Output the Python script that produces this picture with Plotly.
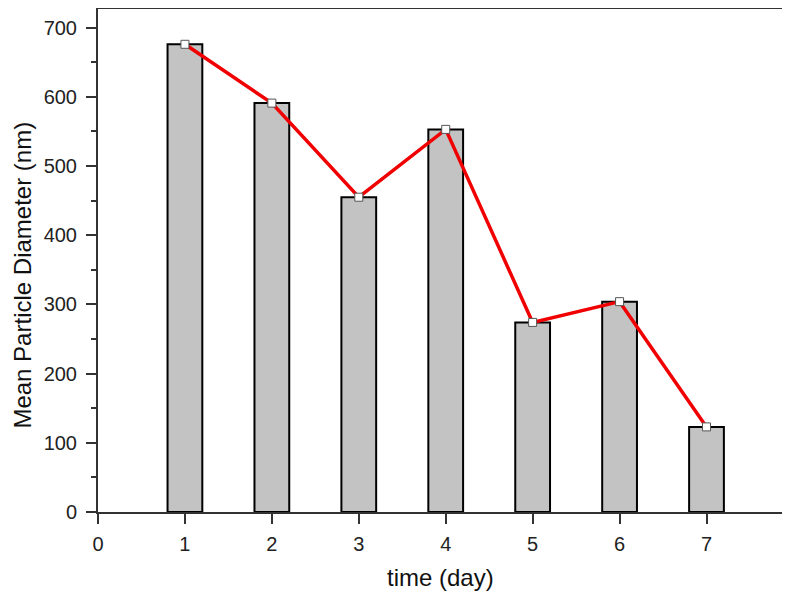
import plotly.graph_objects as go

days = [1, 2, 3, 4, 5, 6, 7]
diameter = [676, 591, 455, 553, 274, 304, 123]

x_title = 'time (day)'
y_title = 'Mean Particle Diameter (nm)'

fig = go.Figure()

fig.add_trace(go.Bar(
    x=days,
    y=diameter,
    width=0.4,
    marker=dict(color='#c3c3c3', line=dict(color='black', width=2)),
    showlegend=False
))

fig.add_trace(go.Scatter(
    x=days,
    y=diameter,
    mode='lines+markers',
    line=dict(color='#f00000', width=3.5),
    marker=dict(symbol='square', size=8, color='white', line=dict(color='#555555', width=1)),
    showlegend=False
))

# the page body adds an 8px offset, so margins are trimmed to match
fig.update_layout(
    width=790,
    height=599,
    margin=dict(l=90, r=15, t=1, b=95),
    plot_bgcolor='white',
    paper_bgcolor='white',
    font=dict(family='Arial, Liberation Sans', color='black'),
)

# axis titles placed as annotations so the plot frame stays fixed
fig.add_annotation(text=x_title, xref='paper', yref='paper', x=0.5, y=0,
                   xanchor='center', yanchor='middle', yshift=-65,
                   showarrow=False, font=dict(size=24, color='#111111'))
fig.add_annotation(text=y_title, xref='paper', yref='paper', x=0, y=0.47,
                   xanchor='center', yanchor='middle', xshift=-75, textangle=-90,
                   showarrow=False, font=dict(size=24, color='#111111'))

fig.update_xaxes(
    range=[0, 7.88],
    tickvals=[0, 1, 2, 3, 4, 5, 6, 7],
    ticks='outside', ticklen=10, tickwidth=2, tickcolor='#333333',
    tickfont=dict(size=20, color='#222222'), ticklabelstandoff=3,
    showline=True, linewidth=2, linecolor='#333333', mirror=True,
    showgrid=False, zeroline=False, automargin=False,
)

fig.update_yaxes(
    range=[0, 727],
    dtick=100,
    ticks='outside', ticklen=10, tickwidth=2, tickcolor='#333333',
    tickfont=dict(size=20, color='#222222'), ticklabelstandoff=5,
    minor=dict(dtick=50, ticks='outside', ticklen=5, tickwidth=2, tickcolor='#333333'),
    showline=True, linewidth=2, linecolor='#333333', mirror=True,
    showgrid=False, zeroline=False, automargin=False,
)

fig.write_html("out.html")
